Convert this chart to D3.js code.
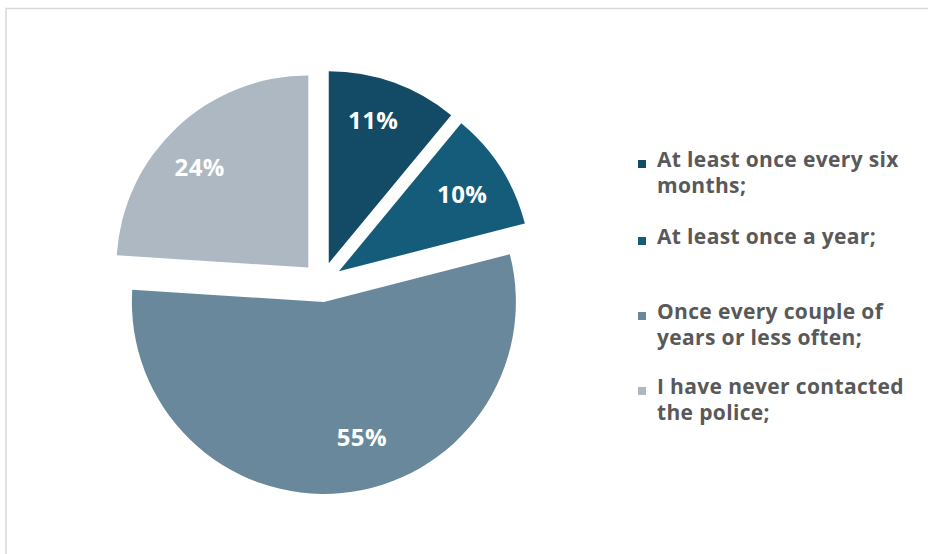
<!DOCTYPE html>
<html>
<head>
<meta charset="utf-8">
<script src="https://cdn.jsdelivr.net/npm/d3@7"></script>
<style>
  html, body { margin: 0; padding: 0; background: #ffffff; }
  svg { display: block; }
</style>
</head>
<body>
<svg id="chart" width="928" height="554"></svg>
<script>
// How often respondents contact the police (share of answers, %)
const categories = [
  "At least once every six months;",
  "At least once a year;",
  "Once every couple of years or less often;",
  "I have never contacted the police;"
];
const values = [11, 10, 55, 24];
const valueLabels = ["11%", "10%", "55%", "24%"];
const colors = ["#134a66", "#155b7a", "#6a889c", "#adb8c3"];

const W = 928, H = 554;
const svg = d3.select("#chart");

// light chart-area frame
svg.append("rect")
  .attr("x", 6).attr("y", 8.5)
  .attr("width", W + 20).attr("height", H + 20)
  .attr("fill", "none")
  .attr("stroke", "#d9d9d9")
  .attr("stroke-width", 1.5);

// exploded pie
const cx = 322, cy = 282, R = 192, explode = 20;
const pie = d3.pie().sort(null).value(d => d)(values);
const arc = d3.arc().innerRadius(0).outerRadius(R);
// label placement inside each slice: distance from the slice tip and angular shift (radians)
const labelR = [150, 146, 140, 148];
const labelTurn = [-0.045, 0, -0.18, -0.07];

const g = svg.append("g").attr("transform", `translate(${cx},${cy})`);
const slices = g.selectAll("g.slice")
  .data(pie)
  .join("g")
  .attr("class", "slice")
  .attr("transform", d => {
    const m = (d.startAngle + d.endAngle) / 2;
    return `translate(${Math.sin(m) * explode},${-Math.cos(m) * explode})`;
  });

slices.append("path")
  .attr("d", arc)
  .attr("fill", (d, i) => colors[i]);

slices.append("text")
  .attr("x", (d, i) => Math.sin((d.startAngle + d.endAngle) / 2 + labelTurn[i]) * labelR[i])
  .attr("y", (d, i) => -Math.cos((d.startAngle + d.endAngle) / 2 + labelTurn[i]) * labelR[i])
  .attr("text-anchor", "middle")
  .attr("dominant-baseline", "central")
  .attr("font-family", "'Open Sans', sans-serif")
  .attr("font-weight", 700)
  .attr("font-size", 24)
  .attr("letter-spacing", 0.4)
  .attr("fill", "#ffffff")
  .text((d, i) => valueLabels[i]);

// legend
const legendX = 638, textX = 657, lineH = 25.5, maxW = 262;
const legendTops = [159, 236, 311, 386];
const legend = svg.append("g");

categories.forEach((name, i) => {
  const item = legend.append("g");
  const t = item.append("text")
    .attr("x", textX)
    .attr("font-family", "'Open Sans', sans-serif")
    .attr("font-weight", 700)
    .attr("font-size", 21)
    .attr("letter-spacing", 0.35)
    .attr("fill", "#595959");
  // wrap words into lines that fit the legend column
  const words = name.split(" ");
  let lines = [], cur = "";
  const probe = t.append("tspan");
  words.forEach(w => {
    const trial = cur ? cur + " " + w : w;
    probe.text(trial);
    if (probe.node().getComputedTextLength() > maxW && cur) {
      lines.push(cur);
      cur = w;
    } else {
      cur = trial;
    }
  });
  lines.push(cur);
  probe.remove();
  lines.forEach((ln, k) => {
    t.append("tspan")
      .attr("x", textX)
      .attr("y", legendTops[i] + k * lineH)
      .attr("dominant-baseline", "central")
      .text(ln);
  });
  item.append("rect")
    .attr("x", legendX)
    .attr("y", legendTops[i] + 1)
    .attr("width", 8).attr("height", 8)
    .attr("fill", colors[i]);
});
</script>
</body>
</html>
